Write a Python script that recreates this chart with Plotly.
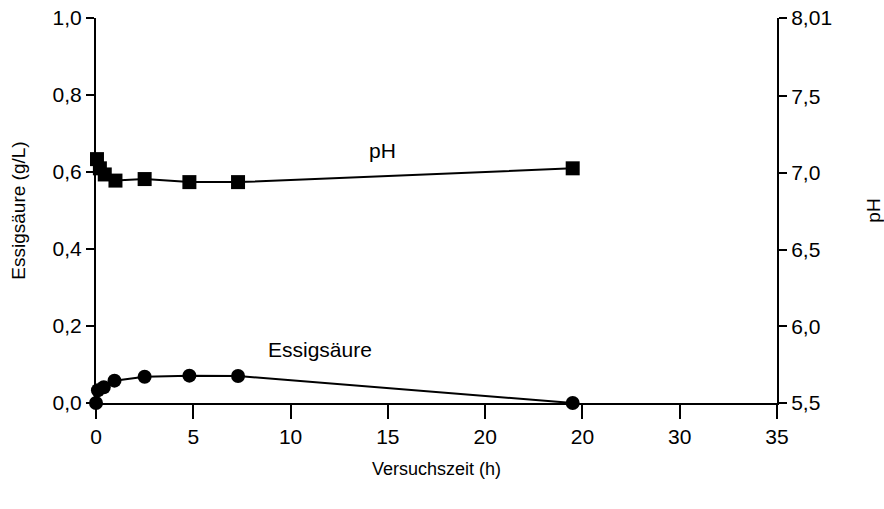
import plotly.graph_objects as go

# Data
time_ph = [0.05, 0.2, 0.45, 1.0, 2.5, 4.8, 7.3, 24.5]
ph = [7.09, 7.03, 6.99, 6.95, 6.96, 6.94, 6.94, 7.03]
time_acid = [0.0, 0.1, 0.4, 0.95, 2.5, 4.8, 7.3, 24.5]
acid = [0.0, 0.033, 0.041, 0.058, 0.068, 0.071, 0.070, 0.0]

x_tickvals = [0, 5, 10, 15, 20, 25, 30, 35]
x_ticktext = ["0", "5", "10", "15", "20", "20", "30", "35"]
y_tickvals = [0.0, 0.2, 0.4, 0.6, 0.8, 1.0]
y_ticktext = ["0,0", "0,2", "0,4", "0,6", "0,8", "1,0"]
y2_tickvals = [5.5, 6.0, 6.5, 7.0, 7.5, 8.01]
y2_ticktext = ["5,5", "6,0", "6,5", "7,0", "7,5", "8,01"]

FONT = "Liberation Sans, Arial, sans-serif"

fig = go.Figure()
fig.add_trace(go.Scatter(
    x=time_acid, y=acid, mode="lines+markers", yaxis="y",
    line=dict(color="black", width=2),
    marker=dict(symbol="circle", size=14, color="black"),
    showlegend=False, cliponaxis=False,
))
fig.add_trace(go.Scatter(
    x=time_ph, y=ph, mode="lines+markers", yaxis="y2",
    line=dict(color="black", width=2),
    marker=dict(symbol="square", size=14, color="black"),
    showlegend=False, cliponaxis=False,
))

fig.add_annotation(x=14.7, y=0.655, xref="x", yref="y", text="pH",
                   showarrow=False, font=dict(family=FONT, size=21, color="black"))
fig.add_annotation(x=11.5, y=0.138, xref="x", yref="y", text="Essigsäure",
                   showarrow=False, font=dict(family=FONT, size=21, color="black"))

fig.update_layout(
    width=884, height=509,
    margin=dict(l=96, r=107, t=18, b=106, autoexpand=False),
    plot_bgcolor="white", paper_bgcolor="white",
    font=dict(family=FONT, color="black", size=18),
    xaxis=dict(
        range=[0, 35], tickvals=x_tickvals, ticktext=x_ticktext,
        showline=True, linecolor="black", linewidth=2,
        ticks="outside", ticklen=14, tickwidth=2, tickcolor="black",
        showgrid=False, zeroline=False, automargin=False,
        tickfont=dict(size=21), ticklabeloverflow="allow",
        title=dict(text="Versuchszeit (h)", font=dict(size=18), standoff=15),
    ),
    yaxis=dict(
        range=[0, 1.0], tickvals=y_tickvals, ticktext=y_ticktext,
        showline=True, linecolor="black", linewidth=2,
        ticks="outside", ticklen=8, tickwidth=2, tickcolor="black",
        showgrid=False, zeroline=False, automargin=False,
        tickfont=dict(size=21), ticklabeloverflow="allow",
        title=dict(text="Essigsäure (g/L)", font=dict(size=19), standoff=22),
    ),
    yaxis2=dict(
        range=[5.5, 8.01], tickvals=y2_tickvals, ticktext=y2_ticktext,
        overlaying="y", side="right",
        showline=True, linecolor="black", linewidth=2,
        ticks="outside", ticklen=8, tickwidth=2, tickcolor="black",
        showgrid=False, zeroline=False, automargin=False,
        tickfont=dict(size=21), ticklabeloverflow="allow",
        title=dict(text="pH", font=dict(size=19), standoff=40),
    ),
)

# Remove the default 8px page margin so the figure fills the 884x509 window.
fig.write_html("out.html", config={"displayModeBar": False},
               post_script="document.body.style.margin='0px';")
